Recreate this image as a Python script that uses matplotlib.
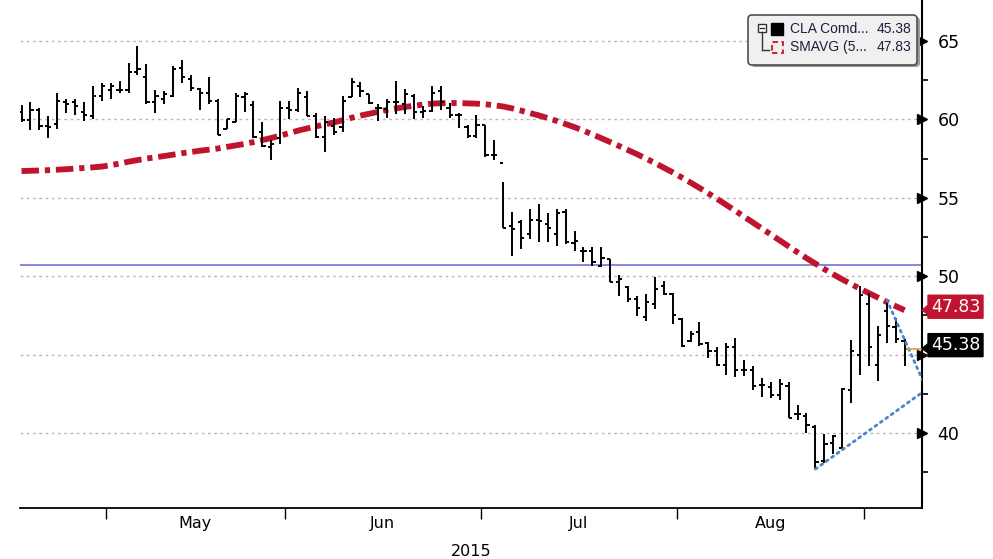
import matplotlib
matplotlib.use("Agg")
import matplotlib.pyplot as plt
from matplotlib.patches import Polygon, FancyBboxPatch, Rectangle
from matplotlib.lines import Line2D
from matplotlib.transforms import IdentityTransform
import numpy as np

# daily OHLC bars (mid-Apr to early Sep 2015)
opens = [60.5, 59.96, 60.6, 59.6, 59.7, 61.1, 61.1, 60.5, 60.2, 61.5,
         61.9, 61.9, 61.9, 63.0, 62.7, 61.1, 61.3, 61.5, 63.3, 62.6,
         61.96, 61.7, 61.2, 59.4, 59.8, 61.4, 60.9, 59.2, 58.25, 58.8,
         60.7, 60.6, 61.4, 60.2, 58.85, 59.6, 59.5, 61.45, 62.1, 61.6,
         60.75, 60.65, 61.1, 60.95, 61.5, 60.5, 60.55, 61.8, 60.75, 60.3,
         59.5, 58.95, 59.64, 57.7, 57.2, 53.2, 53.46, 52.7, 53.57, 53.35,
         52.7, 54.1, 52.14, 51.58, 51.58, 50.64, 51.07, 49.6, 49.3, 48.55,
         47.37, 48.2, 49.4, 48.85, 47.3, 45.85, 46.45, 45.71, 45.24, 44.34,
         45.5, 43.99, 44.03, 43.05, 42.92, 42.44, 43.0, 41.2, 41.06, 40.4,
         38.19, 39.35, 39.05, 42.77, 45.0, 48.25, 44.32, 47.77, 46.74, 45.85]
highs = [60.9, 61.1, 60.7, 60.2, 61.7, 61.3, 61.3, 61.1, 62.1, 62.3,
         62.3, 62.45, 63.6, 64.7, 63.5, 61.9, 61.8, 63.4, 63.8, 62.8,
         62.0, 62.7, 61.3, 60.0, 61.7, 61.75, 61.2, 59.85, 58.7, 61.2,
         61.2, 62.0, 61.8, 60.4, 60.2, 60.1, 61.5, 62.65, 62.4, 61.6,
         60.95, 61.3, 62.45, 61.95, 61.6, 60.85, 62.1, 62.15, 61.05, 60.4,
         59.65, 60.28, 59.64, 58.7, 56.0, 54.1, 53.57, 54.3, 54.6, 54.0,
         54.3, 54.27, 52.86, 51.86, 51.86, 51.86, 51.1, 50.09, 49.4, 48.72,
         48.87, 49.94, 49.72, 48.9, 47.35, 46.5, 47.08, 45.8, 45.5, 45.76,
         46.03, 44.65, 44.3, 43.52, 43.28, 43.45, 43.24, 41.81, 41.3, 40.5,
         39.94, 39.9, 42.87, 45.96, 49.36, 48.94, 46.81, 48.51, 47.34, 46.02]
lows = [59.8, 59.3, 59.3, 58.8, 59.4, 60.4, 60.3, 59.9, 60.0, 61.2,
        61.3, 61.7, 61.7, 62.8, 61.0, 60.4, 61.0, 61.4, 62.3, 61.8,
        60.6, 61.0, 59.0, 59.4, 59.8, 60.5, 58.8, 58.25, 57.4, 58.4,
        60.0, 60.5, 60.2, 58.8, 57.9, 59.0, 59.2, 61.4, 61.4, 60.95,
        59.9, 60.1, 60.35, 60.35, 60.05, 60.1, 60.45, 60.6, 60.1, 59.45,
        58.8, 58.79, 57.6, 57.4, 53.1, 51.3, 51.75, 52.4, 52.2, 52.2,
        51.9, 52.07, 51.58, 50.9, 50.64, 50.58, 49.6, 48.76, 48.33, 47.48,
        47.16, 47.9, 48.77, 46.95, 45.5, 45.8, 45.58, 44.8, 44.3, 43.7,
        43.6, 43.65, 42.75, 42.3, 42.25, 42.12, 40.96, 40.8, 40.0, 37.7,
        38.09, 38.65, 39.0, 41.9, 43.72, 44.26, 43.3, 45.74, 45.74, 44.26]
closes = [59.96, 60.6, 59.6, 59.5, 61.2, 61.0, 60.85, 60.25, 61.5, 62.1,
          62.1, 61.9, 63.0, 63.2, 61.1, 61.5, 61.6, 63.2, 62.7, 62.0,
          61.7, 61.2, 59.0, 60.0, 61.5, 61.6, 58.9, 58.3, 58.4, 60.7,
          60.6, 61.7, 60.2, 58.85, 59.85, 59.2, 61.2, 62.4, 61.8, 61.05,
          60.7, 61.1, 61.1, 61.6, 60.5, 60.55, 61.7, 61.1, 60.3, 60.3,
          58.95, 59.64, 57.7, 57.7, 53.1, 53.0, 52.44, 53.57, 53.5, 53.1,
          54.0, 52.2, 52.22, 51.58, 50.9, 51.15, 49.6, 49.8, 48.55, 48.0,
          48.33, 49.2, 48.88, 47.5, 45.55, 46.3, 45.7, 45.24, 44.36, 45.5,
          43.99, 44.05, 43.0, 43.04, 42.44, 43.12, 40.98, 41.2, 40.5, 38.15,
          39.3, 39.8, 42.8, 45.26, 48.8, 45.47, 46.23, 46.81, 46.02, 45.38]
smavg = [56.70, 56.72, 56.74, 56.76, 56.79, 56.82, 56.86, 56.90, 56.94, 56.99,
         57.08, 57.18, 57.30, 57.40, 57.50, 57.58, 57.66, 57.75, 57.84, 57.92,
         58.00, 58.07, 58.14, 58.24, 58.34, 58.43, 58.55, 58.68, 58.81, 58.96,
         59.12, 59.28, 59.42, 59.55, 59.68, 59.80, 59.95, 60.10, 60.24, 60.36,
         60.48, 60.60, 60.70, 60.79, 60.87, 60.94, 61.00, 61.03, 61.04, 61.04,
         61.02, 61.00, 60.96, 60.90, 60.82, 60.70, 60.56, 60.40, 60.25, 60.08,
         59.90, 59.70, 59.50, 59.28, 59.04, 58.80, 58.55, 58.30, 58.04, 57.78,
         57.50, 57.22, 56.92, 56.62, 56.30, 55.97, 55.63, 55.28, 54.92, 54.55,
         54.18, 53.80, 53.42, 53.04, 52.66, 52.28, 51.90, 51.52, 51.15, 50.80,
         50.45, 50.12, 49.80, 49.50, 49.20, 48.92, 48.64, 48.36, 48.09, 47.83]

month_labels = ["May", "Jun", "Jul", "Aug"]
month_first_bar = [10, 30, 52, 74, 95]   # first trading day of May..Sep
year_label = "2015"
y_ticks = [40, 45, 50, 55, 60, 65]
y_minor = [37.5, 42.5, 47.5, 52.5, 57.5, 62.5]
h_level = 50.7
trend_low_x, trend_low_y = [89, 101], [37.7, 42.6]
trend_high_x, trend_high_y = [97, 101], [48.5, 43.4]
last_px = 45.38
last_sma = 47.83
legend_rows = [("CLA Comd...", "45.38"), ("SMAVG (5...", "47.83")]

W, H = 993, 559
RED = "#c0142e"
NARROW = ["Liberation Sans Narrow", "DejaVu Sans"]
fig = plt.figure(figsize=(W / 100, H / 100), dpi=100)
ax = fig.add_axes([20 / W, 51 / H, 902 / W, 508 / H])
ax.set_xlim(-0.17, 100.95)
ax.set_ylim(35.22, 67.61)

x = np.arange(len(closes))
tw = 0.36
for v in y_ticks:
    ax.axhline(v, color="#b8b8b8", lw=1, dashes=(2, 2.5), zorder=1)
ax.axhline(h_level, color="#7b7fd8", lw=1.3, zorder=2)

ax.vlines(x, lows, highs, color="black", lw=1.4, zorder=4)
ax.hlines(opens, x - tw, x, color="black", lw=1.4, zorder=4)
ax.hlines(closes, x, x + tw, color="black", lw=1.4, zorder=4)

ax.plot(x, smavg, color=RED, lw=4.2, dashes=(3.0, 1.0, 0.9, 1.0),
        dash_capstyle="butt", zorder=3)

for tx, ty in [(trend_low_x, trend_low_y), (trend_high_x, trend_high_y)]:
    ax.plot(tx, ty, color="#4a86c8", lw=2.0, ls=(0, (0.8, 1.6)),
            dash_capstyle="round", zorder=5)
ax.plot([x[-1] + 0.3, 101], [last_px, last_px], color="#f0a030", lw=1.3, zorder=5)

# axes look
for s in ["left", "top"]:
    ax.spines[s].set_visible(False)
ax.spines["right"].set_linewidth(1.5)
ax.spines["bottom"].set_linewidth(1.3)

ax.yaxis.tick_right()
ax.set_yticks(y_ticks)
# the 45 label sits under the last-price tag
ax.set_yticklabels(["" if v == 45 else str(v) for v in y_ticks], fontsize=12.5)
ax.set_yticks(y_minor, minor=True)
ax.tick_params(axis="y", which="major", length=0, pad=11)
ax.tick_params(axis="y", which="minor", length=4, width=1.2, direction="out")
ax.plot(np.full(len(y_ticks), 100.95), y_ticks, ls="none", marker=">",
        markersize=7, color="black", clip_on=False, zorder=6)

bounds = [b - 0.5 for b in month_first_bar]
ax.set_xticks(bounds)
ax.set_xticklabels([""] * len(bounds))
ax.tick_params(axis="x", which="major", length=8, width=1, direction="out")
mids = [(bounds[i] + bounds[i + 1]) / 2 for i in range(len(month_labels))]
ax.set_xticks(mids, minor=True)
ax.set_xticklabels(month_labels, minor=True, fontsize=11.5, family=NARROW)
ax.tick_params(axis="x", which="minor", length=0, pad=6)
ax.text(0.5, -0.07, year_label, transform=ax.transAxes, ha="center", va="top",
        fontsize=11.5, family=NARROW)

# value tags on the right axis
T = IdentityTransform()
def tag(value, color):
    yp = ax.transData.transform((0, value))[1]
    xl, xr = 928, 983
    top, bot = yp + 15, yp - 8
    poly = Polygon([(922, yp), (xl, yp + 5), (xl, top), (xr, top), (xr, bot),
                    (xl, bot), (xl, yp - 4)], closed=True, facecolor=color,
                   edgecolor=color, transform=T, clip_on=False, zorder=5)
    fig.patches.append(poly)
    fig.text((xl + xr) / 2 / W, (top + bot) / 2 / H, f"{value:.2f}",
             color="white", fontsize=12.5, ha="center", va="center", zorder=6)

tag(last_sma, RED)
tag(last_px, "black")

# legend box
def py(v):
    return H - v

shadow = FancyBboxPatch((751, py(67)), 169, 50, boxstyle="round,pad=0,rounding_size=4",
                        facecolor="#9a9a9a", edgecolor="none", transform=T)
box = FancyBboxPatch((748, py(65)), 169, 50, boxstyle="round,pad=0,rounding_size=4",
                     facecolor="#f0f0f0", edgecolor="#505050", lw=1.2, transform=T)
fig.patches.extend([shadow, box])
fig.lines.append(Line2D([762, 762], [py(32), py(50)], color="#333333", lw=1, transform=T))
fig.lines.append(Line2D([762, 769], [py(50), py(50)], color="#333333", lw=1, transform=T))
fig.patches.append(Rectangle((758, py(32)), 8, 8, facecolor="white",
                             edgecolor="#333333", lw=1, transform=T))
fig.lines.append(Line2D([760, 764], [py(28), py(28)], color="#333333", lw=1, transform=T))
fig.patches.append(Rectangle((771, py(35)), 12, 12, facecolor="black",
                             edgecolor="black", transform=T))
fig.patches.append(Rectangle((772, py(53)), 11, 11, facecolor="none",
                             edgecolor=RED, lw=1.3, ls=(0, (3, 2)), transform=T))
for (name, val), yy in zip(legend_rows, [29, 47]):
    fig.text(790 / W, py(yy) / H, name, fontsize=10, color="#1e1e3c", va="center",
             family=["Liberation Sans", "DejaVu Sans"])
    fig.text(911 / W, py(yy) / H, val, fontsize=10, color="#1e1e3c", va="center",
             ha="right", family=["Liberation Sans", "DejaVu Sans"])

fig.savefig("out.png", dpi=100)
